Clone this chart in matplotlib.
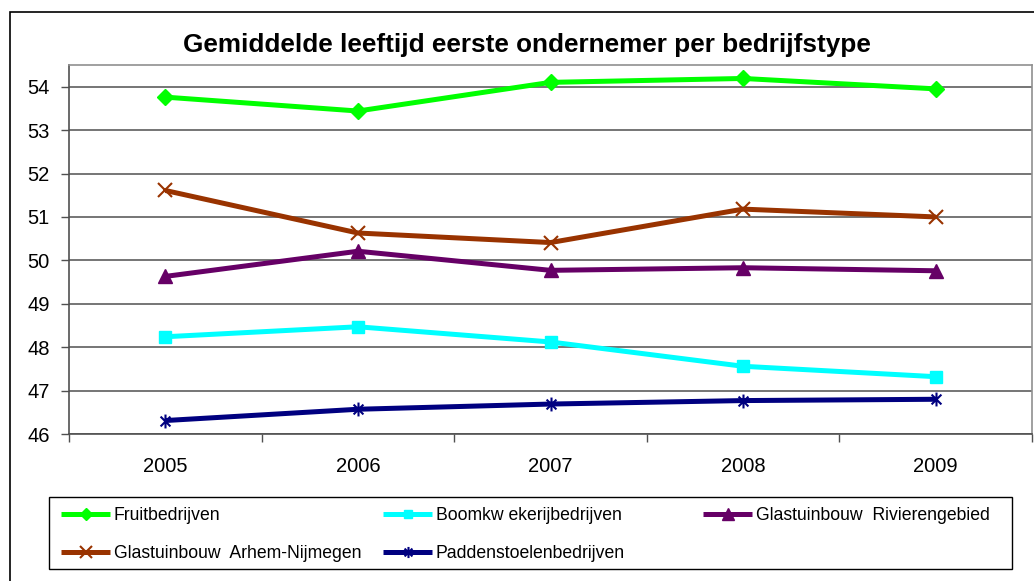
import numpy as np
import matplotlib
matplotlib.use("Agg")
import matplotlib.pyplot as plt
from matplotlib.patches import Rectangle
from matplotlib.path import Path
from matplotlib.ticker import FixedLocator, NullFormatter

plt.rcParams['font.family'] = ['Liberation Sans', 'DejaVu Sans']

years = ["2005", "2006", "2007", "2008", "2009"]
fruit = [53.76, 53.44, 54.10, 54.19, 53.95]
boom = [48.24, 48.47, 48.12, 47.56, 47.32]
riv = [49.63, 50.21, 49.77, 49.83, 49.76]
arnhem = [51.61, 50.63, 50.41, 51.18, 51.00]
padd = [46.31, 46.57, 46.69, 46.77, 46.80]

labels = ["Fruitbedrijven", "Boomkw ekerijbedrijven", "Glastuinbouw  Rivierengebied",
          "Glastuinbouw  Arhem-Nijmegen", "Paddenstoelenbedrijven"]
title = "Gemiddelde leeftijd eerste ondernemer per bedrijfstype"
yticks = [46, 47, 48, 49, 50, 51, 52, 53, 54]

# Excel-style asterisk marker: X plus vertical bar
d = 0.7071
star = Path([(0, -1), (0, 1), (-d, -d), (d, d), (-d, d), (d, -d)],
            [Path.MOVETO, Path.LINETO, Path.MOVETO, Path.LINETO, Path.MOVETO, Path.LINETO])

W, H = 1034, 581
fig = plt.figure(figsize=(W / 100, H / 100), dpi=100)
ax = fig.add_axes([69 / W, 1 - 434 / H, (1032 - 69) / W, (434 - 65) / H])

x = np.arange(len(years))
series = [
    (fruit, "#00FF00", "D", 8, dict()),
    (boom, "#00FFFF", "s", 8, dict()),
    (riv, "#660066", "^", 10, dict()),
    (arnhem, "#993300", "x", 10, dict(markeredgewidth=1.5)),
    (padd, "#000080", star, 10, dict(markeredgewidth=1.5)),
]
handles = []
for (vals, col, mk, ms, kw), lab in zip(series, labels):
    h, = ax.plot(x, vals, color=col, lw=3.6, marker=mk, markersize=ms,
                 markerfacecolor=col, markeredgecolor=col, label=lab,
                 solid_capstyle='butt', zorder=3, **kw)
    handles.append(h)

ax.set_xlim(-0.5, len(years) - 0.5)
ax.set_ylim(46, 54.5)
ax.set_yticks(yticks)
ax.set_yticklabels([str(v) for v in yticks])
ax.yaxis.grid(True, color="#505050", lw=1.1, zorder=1)
ax.set_xticks(x)
ax.set_xticklabels(years)
ax.xaxis.set_minor_locator(FixedLocator(np.arange(-0.5, len(years), 1.0)))
ax.xaxis.set_minor_formatter(NullFormatter())
ax.tick_params(axis='x', which='major', length=0, pad=16.5, labelsize=14.5)
ax.tick_params(axis='x', which='minor', length=6, width=1, color="#505050")
ax.tick_params(axis='y', length=6, width=1, color="#505050", pad=8, labelsize=14.5)
for s in ['top', 'right']:
    ax.spines[s].set_color("#909090")
    ax.spines[s].set_linewidth(1.2)
for s in ['left', 'bottom']:
    ax.spines[s].set_color("#505050")
    ax.spines[s].set_linewidth(1.2)

fig.text(527 / W, 1 - 45 / H, title, ha='center', va='center',
         fontsize=18.8, fontweight='bold')

# outer chart frame
fig.patches.append(Rectangle((10 / W, -0.05), 1.1, 1 - 12 / H + 0.05,
                             transform=fig.transFigure, fill=False,
                             edgecolor='black', lw=1.2))

# legend frame
lx0, lx1, ly0, ly1 = 49, 1012, 497, 569
fig.patches.append(Rectangle((lx0 / W, 1 - ly1 / H), (lx1 - lx0) / W, (ly1 - ly0) / H,
                             transform=fig.transFigure, fill=False,
                             edgecolor='black', lw=1.0))

cols = [[0, 3], [1, 4], [2]]
col_x = [61, 383, 703]
for cx, idx in zip(col_x, cols):
    fig.legend([handles[i] for i in idx], [labels[i] for i in idx],
               loc='upper left', bbox_to_anchor=(cx / W, 1 - 507 / H),
               frameon=False, fontsize=12.7, handlelength=2.78,
               handletextpad=0.2, labelspacing=1.18, borderpad=0,
               borderaxespad=0, markerscale=0.8)

fig.savefig("out.png", dpi=100)
